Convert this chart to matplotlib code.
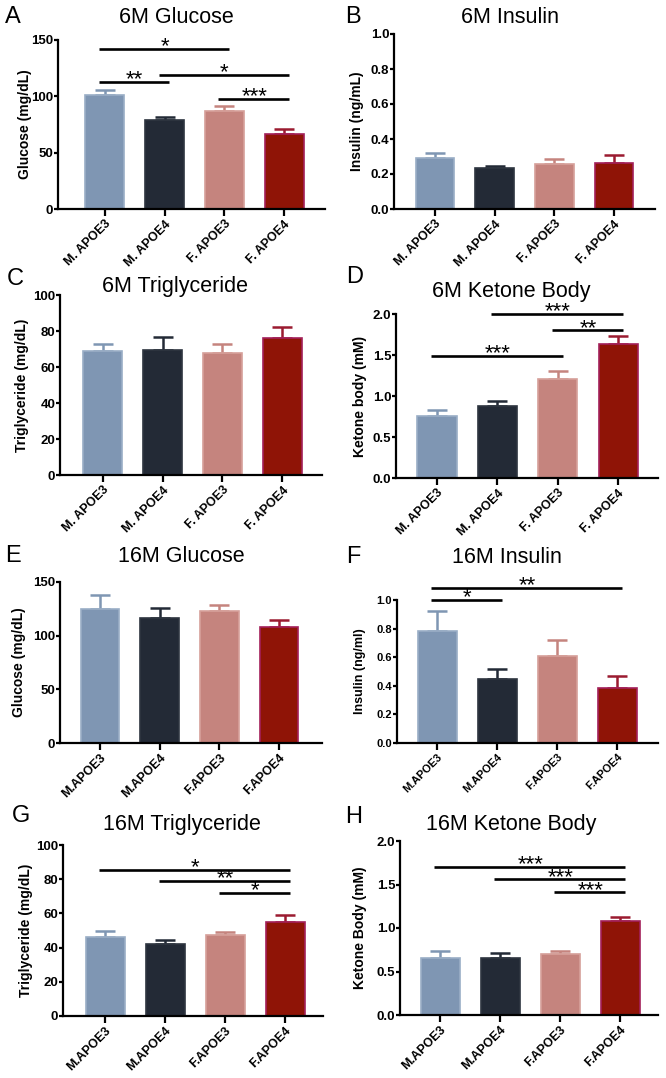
import matplotlib
matplotlib.use('Agg')
import matplotlib.pyplot as plt
from matplotlib.ticker import FormatStrFormatter

plt.rcParams['font.family'] = ['Liberation Sans', 'DejaVu Sans']

# group names (the 6M panels have a space after the dot, the 16M ones do not)
groups_6m = ['M. APOE3', 'M. APOE4', 'F. APOE3', 'F. APOE4']
groups_16m = ['M.APOE3', 'M.APOE4', 'F.APOE3', 'F.APOE4']

# means and upper error (SEM)
glucose_6m = [101, 79, 87, 67]
glucose_6m_err = [5, 3, 4, 4]
insulin_6m = [0.29, 0.235, 0.26, 0.265]
insulin_6m_err = [0.03, 0.01, 0.025, 0.045]
tg_6m = [69, 69.5, 68, 76]
tg_6m_err = [4, 7, 5, 6]
ketone_6m = [0.76, 0.88, 1.21, 1.64]
ketone_6m_err = [0.07, 0.06, 0.09, 0.09]

glucose_16m = [125, 116, 123, 108]
glucose_16m_err = [13, 10, 6, 7]
insulin_16m = [0.78, 0.45, 0.61, 0.385]
insulin_16m_err = [0.14, 0.07, 0.11, 0.085]
tg_16m = [46, 42, 47.5, 55]
tg_16m_err = [3.5, 2.5, 1.5, 4]
ketone_16m = [0.66, 0.66, 0.70, 1.08]
ketone_16m_err = [0.08, 0.05, 0.03, 0.05]

# significance brackets: (from bar, to bar, height, stars)
sig_a = [(0, 2, 142, '*'), (0, 1, 113, '**'), (1, 3, 119, '*'), (2, 3, 98, '***')]
sig_d = [(0, 2, 1.49, '***'), (1, 3, 2.0, '***'), (2, 3, 1.80, '**')]
sig_f = [(0, 1, 1.0, '*'), (0, 3, 1.085, '**')]
sig_g = [(0, 3, 85.5, '*'), (1, 3, 79, '**'), (2, 3, 72, '*')]
sig_h = [(0, 3, 1.70, '***'), (1, 3, 1.56, '***'), (2, 3, 1.41, '***')]

bar_colors = ['#7f96b3', '#232a36', '#c5847e', '#8f1406']
edge_colors = ['#9aaec6', '#2e3540', '#d6a09a', '#a3205a']
err_colors = ['#7f96b3', '#232a36', '#c5847e', '#9b1b30']

W, H = 666, 1078

# letter, title, ylabel, groups, values, errors, sig, ymax, ystep, fmt,
# axes box in px (left, right, top, bottom), xlim, ylabel right edge (px),
# title x/baseline, letter x/baseline, small fonts
panels = [
    ('A', '6M Glucose', 'Glucose (mg/dL)', groups_6m, glucose_6m, glucose_6m_err, sig_a,
     150, 50, '%d', (58, 325, 40, 209), (-0.78, 3.68), 32, (176, 23), (5, 23), False),
    ('B', '6M Insulin', 'Insulin (ng/mL)', groups_6m, insulin_6m, insulin_6m_err, [],
     1.0, 0.2, '%.1f', (394, 655, 34, 209), (-0.69, 3.69), 364, (510, 23), (345, 23), False),
    ('C', '6M Triglyceride', 'Triglyceride (mg/dL)', groups_6m, tg_6m, tg_6m_err, [],
     100, 20, '%d', (60, 322, 295, 475), (-0.71, 3.66), 29, (175, 292), (7, 285), False),
    ('D', '6M Ketone Body', 'Ketone body (mM)', groups_6m, ketone_6m, ketone_6m_err, sig_d,
     2.0, 0.5, '%.1f', (396, 658, 314, 478), (-0.68, 3.66), 367, (511, 297), (346, 283), False),
    ('E', '16M Glucose', 'Glucose (mg/dL)', groups_16m, glucose_16m, glucose_16m_err, [],
     150, 50, '%d', (60, 322, 582, 743), (-0.67, 3.72), 26, (181, 562), (5, 562), False),
    ('F', '16M Insulin', 'Insulin (ng/ml)', groups_16m, insulin_16m, insulin_16m_err, sig_f,
     1.0, 0.2, '%.1f', (397, 658, 600, 743), (-0.67, 3.68), 366, (507, 563), (346, 563), True),
    ('G', '16M Triglyceride', 'Triglyceride (mg/dL)', groups_16m, tg_16m, tg_16m_err, sig_g,
     100, 20, '%d', (63, 323, 845, 1016), (-0.70, 3.63), 33, (182, 830), (12, 822), False),
    ('H', '16M Ketone Body', 'Ketone Body (mM)', groups_16m, ketone_16m, ketone_16m_err, sig_h,
     2.0, 0.5, '%.1f', (400, 658, 841, 1015), (-0.67, 3.63), 367, (511, 830), (345, 823), False),
]

fig = plt.figure(figsize=(W / 100, H / 100), dpi=100)
fig.patch.set_facecolor('white')

for (letter, title, ylabel, groups, vals, errs, sigs, ymax, ystep, fmt,
     box, xlim, ylab_x, title_pos, letter_pos, small) in panels:
    left, right, top, bottom = box
    ax = fig.add_axes([left / W, 1 - bottom / H, (right - left) / W, (bottom - top) / H])
    x = list(range(len(groups)))
    ax.bar(x, vals, width=0.65, color=bar_colors, edgecolor=edge_colors, linewidth=1.2, zorder=2)
    for i in x:
        ax.errorbar(i, vals[i], yerr=[[0], [errs[i]]], fmt='none', ecolor=err_colors[i],
                    elinewidth=1.8, capsize=7.5, capthick=1.8, zorder=1)

    ax.set_xlim(*xlim)
    ax.set_ylim(0, ymax)
    n = int(round(ymax / ystep))
    ax.set_yticks([k * ystep for k in range(n + 1)])
    ax.yaxis.set_major_formatter(FormatStrFormatter(fmt))
    ax.set_xticks(x)
    yfs = 8 if small else 9.5
    xfs = 8 if small else 9
    ax.set_xticklabels(groups, rotation=45, ha='right', rotation_mode='anchor',
                       fontsize=xfs, fontweight='bold')
    for t in ax.get_yticklabels():
        t.set_fontweight('bold')
        t.set_fontsize(yfs)

    for s in ['top', 'right']:
        ax.spines[s].set_visible(False)
    for s in ['left', 'bottom']:
        ax.spines[s].set_linewidth(1.6)
    ax.tick_params(axis='y', width=1.6, length=3, pad=0.5, direction='out')
    ax.tick_params(axis='x', width=1.6, length=5, pad=1.5, direction='out')

    ax.set_ylabel(ylabel, fontsize=9 if small else 10, fontweight='bold')
    ax.yaxis.set_label_coords((ylab_x - left) / (right - left), 0.5)

    # brackets
    for i, j, yv, stars in sigs:
        ax.plot([i - 0.1, j + 0.08], [yv, yv], color='black', lw=1.9, clip_on=False,
                solid_capstyle='butt')
        ax.annotate(stars, xy=((i + j) / 2, yv), xytext=(0, -2.5), textcoords='offset points',
                    ha='center', va='baseline', fontsize=16, annotation_clip=False)

    fig.text(title_pos[0] / W, 1 - title_pos[1] / H, title, ha='center', va='baseline',
             fontsize=15.5)
    fig.text(letter_pos[0] / W, 1 - letter_pos[1] / H, letter, ha='left', va='baseline',
             fontsize=17)

fig.savefig('out.png', dpi=100, facecolor='white')
